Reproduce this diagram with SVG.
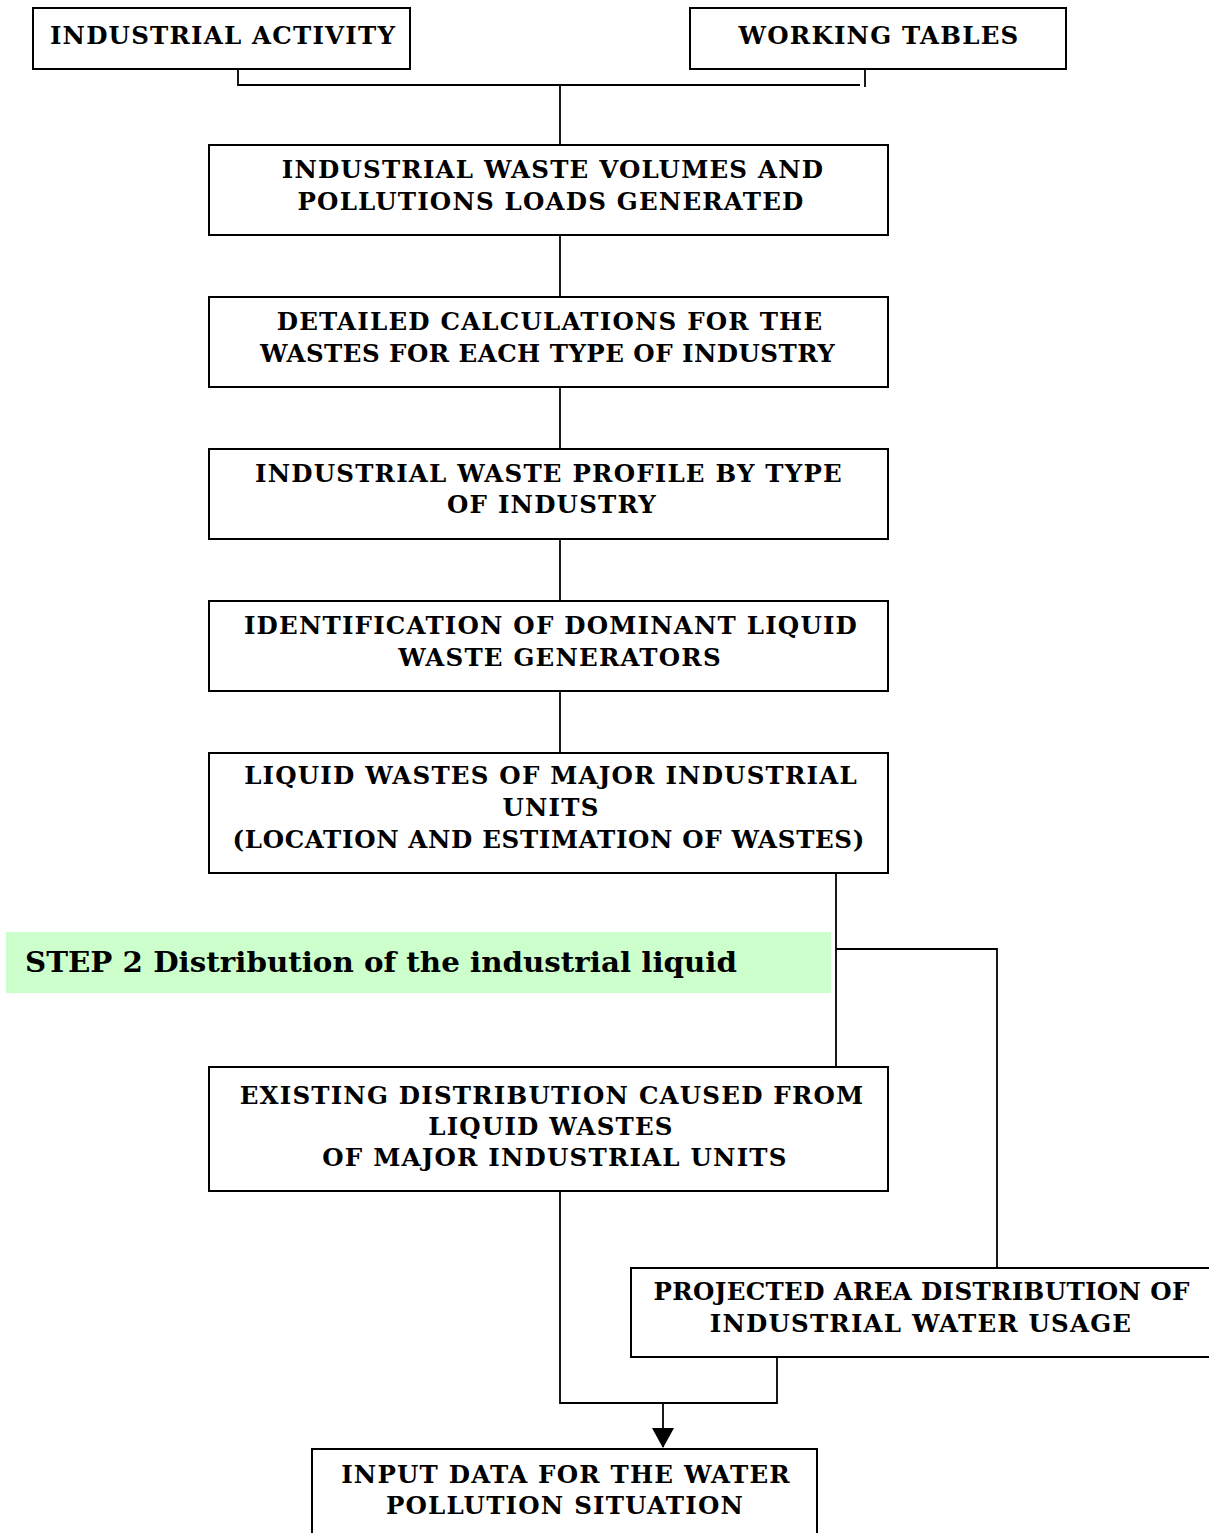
<svg xmlns="http://www.w3.org/2000/svg" width="1209" height="1533" viewBox="0 0 1209 1533">
<defs>
<style>
.box{fill:#fff;stroke:#000;stroke-width:2}
.t{font-family:"DejaVu Serif","Liberation Serif",serif;font-weight:bold;font-size:24.5px;letter-spacing:1.2px;text-anchor:middle;fill:#000}
.c{fill:none;stroke:#000;stroke-width:1.8}
</style>
<marker id="ah" markerWidth="22" markerHeight="20" refX="11" refY="19" orient="0" markerUnits="userSpaceOnUse"><path d="M0,0 L22,0 L11,20 Z" fill="#000"/></marker>
</defs>
<rect width="1209" height="1533" fill="#fff"/>
<g id="connectors">
<path class="c" d="M238,69 V85 H860"/>
<path class="c" d="M865,69 V87"/>
<path class="c" d="M560,85 V145"/>
<path class="c" d="M560,235 V297"/>
<path class="c" d="M560,387 V449"/>
<path class="c" d="M560,539 V601"/>
<path class="c" d="M560,691 V753"/>
<path class="c" d="M836,873 V1067"/>
<path class="c" d="M836,949 H997 V1268"/>
<path class="c" d="M560,1191 V1403 H777 V1357"/>
<path class="c" d="M663,1403 V1447" marker-end="url(#ah)"/>
</g>
<g id="step2">
<rect x="6" y="932" width="825" height="61" fill="#ccffcc"/>
<text x="25" y="972" style="font-family:'DejaVu Serif','Liberation Serif',serif;font-weight:bold;font-size:27.5px;fill:#000" textLength="712" lengthAdjust="spacingAndGlyphs">STEP 2 Distribution of the industrial liquid</text>
</g>
<g id="n1"><rect class="box" x="33" y="8" width="377" height="61"/><text class="t" x="223" y="44">INDUSTRIAL ACTIVITY</text></g>
<g id="n2"><rect class="box" x="690" y="8" width="376" height="61"/><text class="t" x="879" y="44">WORKING TABLES</text></g>
<g id="n3"><rect class="box" x="209" y="145" width="679" height="90"/><text class="t" x="553" y="178">INDUSTRIAL WASTE VOLUMES AND</text><text class="t" x="551" y="210">POLLUTIONS LOADS GENERATED</text></g>
<g id="n4"><rect class="box" x="209" y="297" width="679" height="90"/><text class="t" x="550" y="330">DETAILED CALCULATIONS FOR THE</text><text class="t" x="548" y="362" textLength="576" lengthAdjust="spacing">WASTES FOR EACH TYPE OF INDUSTRY</text></g>
<g id="n5"><rect class="box" x="209" y="449" width="679" height="90"/><text class="t" x="549" y="482">INDUSTRIAL WASTE PROFILE BY TYPE</text><text class="t" x="552" y="513">OF INDUSTRY</text></g>
<g id="n6"><rect class="box" x="209" y="601" width="679" height="90"/><text class="t" x="551" y="634">IDENTIFICATION OF DOMINANT LIQUID</text><text class="t" x="560" y="666">WASTE GENERATORS</text></g>
<g id="n7"><rect class="box" x="209" y="753" width="679" height="120"/><text class="t" x="551" y="784">LIQUID WASTES OF MAJOR INDUSTRIAL</text><text class="t" x="551" y="816">UNITS</text><text class="t" x="549" y="848" textLength="633" lengthAdjust="spacing">(LOCATION AND ESTIMATION OF WASTES)</text></g>
<g id="n8"><rect class="box" x="209" y="1067" width="679" height="124"/><text class="t" x="552" y="1104">EXISTING DISTRIBUTION CAUSED FROM</text><text class="t" x="551" y="1135">LIQUID WASTES</text><text class="t" x="555" y="1166">OF MAJOR INDUSTRIAL UNITS</text></g>
<g id="n9"><rect class="box" x="631" y="1268" width="580" height="89"/><text class="t" x="922" y="1300" textLength="537" lengthAdjust="spacing">PROJECTED AREA DISTRIBUTION OF</text><text class="t" x="921" y="1332">INDUSTRIAL WATER USAGE</text></g>
<g id="n10"><rect class="box" x="312" y="1449" width="505" height="95"/><text class="t" x="566" y="1483">INPUT DATA FOR THE WATER</text><text class="t" x="565" y="1514">POLLUTION SITUATION</text></g>
</svg>
